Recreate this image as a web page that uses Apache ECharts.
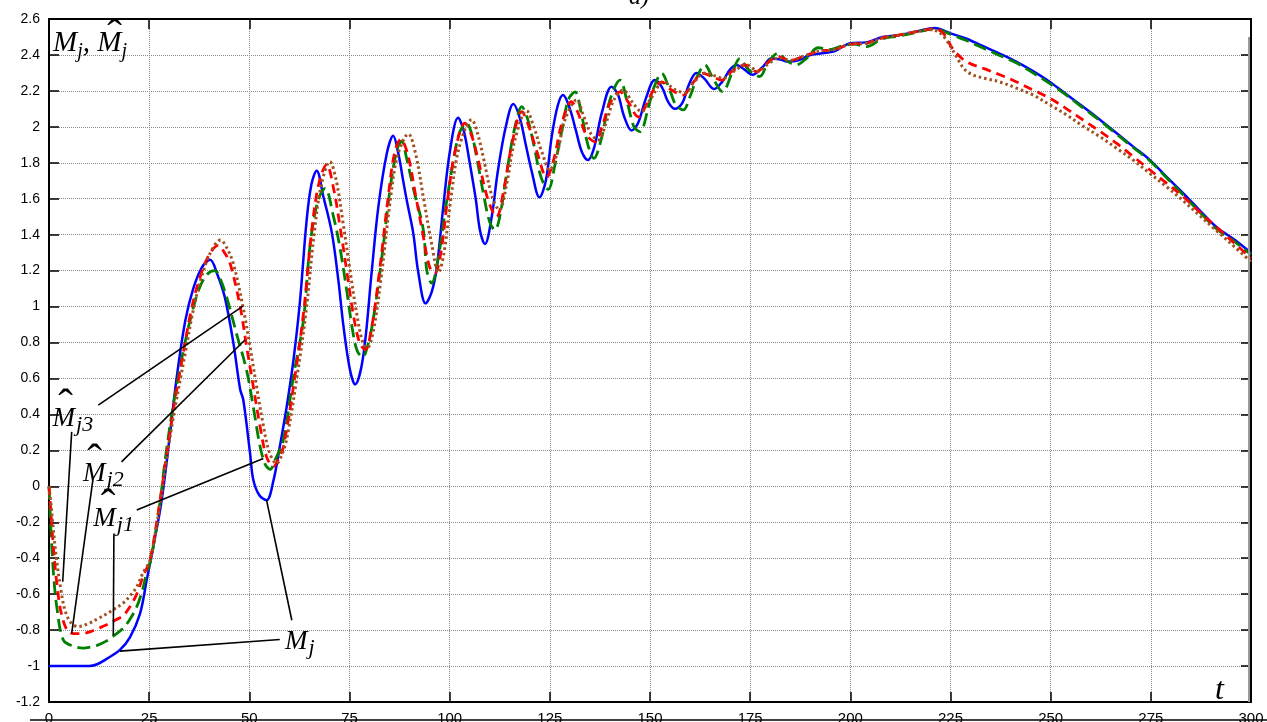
<!DOCTYPE html>
<html>
<head>
<meta charset="UTF-8" />
<title>M_j and estimates</title>
<script src="https://cdn.jsdelivr.net/npm/echarts@6/dist/echarts.min.js"></script>
<style>
  html, body { margin: 0; padding: 0; background: #fff; }
  #chart { width: 1267px; height: 722px; }
</style>
</head>
<body>
<div id="chart"></div>
<script>
// x axis ticks / y axis ticks
const tMin = 0, tMax = 300, tStep = 25;
const vMin = -1.2, vMax = 2.6, vStep = 0.2;

// M_j (blue, solid)
const mj = [
  [0,-1],[5,-1],[10,-1],[12,-0.99],[14.4,-0.96],[17.7,-0.91],[20.2,-0.84],[22.7,-0.71],[24.4,-0.52],
  [26,-0.34],[28.1,-0.08],[30.2,0.29],[31.9,0.61],[34,0.92],[36,1.1],[38.2,1.22],[40.2,1.26],
  [42,1.18],[43.9,1.05],[46,0.8],[47.7,0.54],[48.5,0.48],[50.2,0.18],[51,0.035],[52.5,-0.05],
  [54.3,-0.077],[56,0.03],[57.6,0.22],[59.3,0.44],[61,0.7],[62.6,1.02],[64.3,1.48],[65.5,1.68],
  [66.8,1.756],[68.5,1.61],[70.6,1.41],[72.2,1.15],[73.5,0.89],[75.1,0.65],[76.4,0.567],[78.4,0.72],
  [80.5,1.185],[82.2,1.555],[84.3,1.85],[85.9,1.95],[87.2,1.85],[88.4,1.7],[89.3,1.59],[90.9,1.41],
  [92.2,1.185],[94,1.018],[95.5,1.08],[96.8,1.22],[98.4,1.555],[100.1,1.87],[102.1,2.05],[103.5,1.98],
  [105,1.8],[106.5,1.6],[107.6,1.42],[108.8,1.348],[110.5,1.5],[112,1.75],[114,2.0],[115.9,2.127],
  [117.5,2.05],[119,1.9],[120.5,1.75],[122.4,1.608],[124,1.7],[125.5,1.95],[127,2.12],[128.3,2.177],
  [130,2.1],[131.5,1.98],[133,1.86],[134.5,1.815],[136,1.88],[138,2.08],[140.4,2.223],[142,2.18],
  [143.5,2.06],[145.4,1.98],[147,2.02],[149,2.16],[151.2,2.26],[153,2.22],[154.5,2.14],[156.2,2.1],
  [158,2.13],[159.8,2.24],[161.6,2.3],[163.5,2.27],[166,2.21],[168,2.25],[170,2.32],[171.6,2.344],
  [173.5,2.32],[175.6,2.29],[178,2.33],[180.3,2.38],[182.5,2.375],[184.5,2.363],[187,2.37],[190,2.4],
  [193,2.41],[196,2.42],[200,2.465],[204,2.47],[208,2.5],[212,2.51],[216.5,2.53],[221,2.55],
  [225,2.52],[229,2.49],[233,2.45],[237,2.41],[241.5,2.362],[245.6,2.31],[249.8,2.25],[254,2.18],
  [258.1,2.112],[262.3,2.04],[266.5,1.964],[270.6,1.89],[274.8,1.815],[279,1.72],[283.1,1.63],
  [287,1.54],[291.5,1.44],[296,1.37],[300,1.298]
];

// estimate 1 (green, long dash)
const mj1 = [
  [0,0],[0.5,-0.25],[1.1,-0.48],[2,-0.68],[3.6,-0.856],[6.1,-0.89],[8.6,-0.9],[10.2,-0.895],[12,-0.885],
  [14.4,-0.86],[16,-0.835],[18.5,-0.79],[20.2,-0.74],[21.9,-0.67],[23.3,-0.58],[24.4,-0.48],[25.5,-0.4],
  [27.7,-0.09],[29,0.15],[31,0.45],[33.3,0.73],[35.5,0.95],[37.5,1.1],[39.5,1.18],[41.4,1.2],
  [42.8,1.15],[44.3,1.055],[46.8,0.85],[49.3,0.647],[51,0.44],[52.7,0.22],[54,0.12],[55.2,0.094],
  [56.5,0.15],[58.5,0.26],[61,0.61],[63.5,0.925],[65.1,1.33],[67,1.58],[68.9,1.658],[71,1.5],
  [72.6,1.33],[74.3,1.09],[75.9,0.85],[77,0.75],[78.3,0.72],[79.5,0.78],[80.9,0.925],[83,1.26],
  [85.1,1.65],[86.8,1.87],[88,1.92],[89.3,1.82],[91,1.65],[93.4,1.43],[94.3,1.2],[95.5,1.13],
  [97,1.25],[99,1.55],[101,1.82],[102.5,1.97],[104.2,2.02],[105.5,1.96],[107,1.8],[108.5,1.62],
  [110,1.47],[111.3,1.426],[112.5,1.5],[114.5,1.78],[116.3,2.0],[118,2.112],[119.5,2.04],[121,1.9],
  [122.8,1.72],[124.6,1.652],[126.2,1.78],[128,1.98],[129.6,2.15],[131.3,2.195],[132.8,2.08],
  [134.5,1.9],[136,1.825],[137.7,1.92],[140,2.15],[142.5,2.26],[144.5,2.12],[146,2.0],[147.5,1.973],
  [149.5,2.1],[151,2.22],[152.9,2.298],[155,2.2],[156.5,2.12],[158.3,2.094],[160,2.17],[162,2.29],
  [163.7,2.344],[165.5,2.28],[168.1,2.196],[170.5,2.3],[172.4,2.38],[174.5,2.32],[177.4,2.28],
  [179.5,2.36],[182,2.41],[184,2.37],[186.5,2.345],[189,2.38],[192,2.44],[195,2.43],[198,2.45],
  [201,2.46],[204,2.446],[208,2.49],[212,2.505],[216.5,2.525],[221,2.545],[225,2.515],[229,2.48],
  [233,2.44],[237,2.4],[241.5,2.355],[245.6,2.3],[249.8,2.24],[254,2.175],[258.1,2.105],[262.3,2.035],
  [266.5,1.958],[270.6,1.885],[274.8,1.81],[279,1.715],[283.1,1.62],[287,1.53],[291.5,1.43],
  [296,1.36],[300,1.29]
];

// estimate 2 (red, short dash)
const mj2 = [
  [0,0],[0.5,-0.15],[1.1,-0.34],[2,-0.55],[3,-0.7],[4.5,-0.8],[6.1,-0.82],[8,-0.82],[10.2,-0.81],
  [12.3,-0.79],[14.4,-0.77],[16.5,-0.745],[18.5,-0.72],[20.2,-0.67],[21.9,-0.6],[23.5,-0.5],
  [25.2,-0.41],[27.7,-0.08],[29,0.12],[31,0.42],[33.5,0.74],[35.5,0.98],[37.5,1.15],[40,1.29],
  [42.3,1.34],[43.8,1.3],[45.2,1.24],[47.7,1.0],[49.3,0.78],[51,0.554],[52.7,0.33],[54.3,0.164],
  [56,0.11],[57.2,0.15],[58.5,0.22],[61,0.554],[63.5,0.96],[65.5,1.41],[67.3,1.68],[69.3,1.79],
  [71,1.66],[72.6,1.45],[74.3,1.2],[76,0.95],[77.5,0.8],[78.9,0.76],[80.5,0.88],[82.5,1.2],
  [84.5,1.58],[86.2,1.85],[87.8,1.93],[89.5,1.85],[91.5,1.62],[93.5,1.38],[95,1.22],[96.3,1.185],
  [97.8,1.3],[99.5,1.6],[101.5,1.88],[103.8,2.02],[105.5,1.95],[107.3,1.8],[109.5,1.6],[111.7,1.5],
  [113.5,1.65],[115.5,1.9],[118,2.084],[119.8,2.0],[121.8,1.86],[124.2,1.72],[126,1.82],[128,2.02],
  [130.4,2.14],[132,2.08],[134,1.96],[136.3,1.917],[138,2.0],[140,2.13],[142.5,2.195],[144.5,2.14],
  [147.1,2.056],[149,2.12],[151,2.21],[152.9,2.25],[155,2.21],[158.3,2.177],[160.5,2.24],[163.3,2.298],
  [165.5,2.28],[167.9,2.26],[170.5,2.31],[173.7,2.344],[176.6,2.307],[179,2.35],[182,2.39],[185,2.37],
  [188,2.39],[192,2.42],[196,2.43],[200,2.46],[204,2.465],[208,2.495],[212,2.51],[216.5,2.53],
  [221,2.545],[223.2,2.52],[225.7,2.43],[229,2.362],[233.2,2.325],[237.3,2.29],[241.5,2.25],
  [245.6,2.205],[249.8,2.159],[254,2.1],[258.1,2.038],[262.3,1.975],[266.5,1.908],[270.6,1.835],
  [274.8,1.76],[279,1.685],[283.1,1.611],[287,1.53],[291.5,1.44],[296,1.35],[300,1.27]
];

// estimate 3 (brown, dotted)
const mj3 = [
  [0,0],[0.5,-0.1],[1,-0.22],[1.9,-0.41],[3,-0.58],[4,-0.69],[5.5,-0.76],[7.3,-0.78],[10.2,-0.76],
  [12.3,-0.735],[14.4,-0.71],[16.5,-0.68],[18.5,-0.65],[20.2,-0.61],[21.9,-0.56],[23.5,-0.48],
  [25.2,-0.41],[27.7,-0.1],[29,0.1],[31,0.38],[34,0.74],[36,0.98],[38,1.16],[40.5,1.31],[42.8,1.37],
  [44.3,1.33],[46,1.24],[48.4,1.0],[50,0.8],[51.7,0.57],[53.4,0.35],[55,0.19],[56.8,0.127],[58,0.17],
  [59.3,0.26],[61.7,0.58],[64.2,0.98],[66.2,1.41],[68,1.68],[70.1,1.806],[71.7,1.7],[73.3,1.48],
  [75,1.22],[76.8,0.96],[78.2,0.81],[79.4,0.77],[81,0.87],[83,1.18],[85,1.56],[87,1.84],[89.7,1.96],
  [91.5,1.85],[93.5,1.6],[95.5,1.35],[97.2,1.19],[98.6,1.3],[100.3,1.6],[102.3,1.88],[105.5,2.04],
  [107,1.96],[108.5,1.82],[110.5,1.62],[112.4,1.537],[114.2,1.68],[116.2,1.92],[119.2,2.09],[121,2.0],
  [123,1.86],[125,1.76],[126.8,1.85],[128.8,2.04],[131.7,2.15],[133.3,2.07],[135.3,1.96],[137.1,1.927],
  [139,2.02],[141,2.15],[143.3,2.205],[145.5,2.14],[147.9,2.084],[150,2.15],[153.5,2.25],[156,2.21],
  [158.7,2.19],[161,2.25],[163.8,2.3],[166,2.285],[168.3,2.27],[171,2.31],[174,2.345],[177,2.31],
  [179.5,2.35],[182.3,2.385],[185,2.37],[188,2.39],[192,2.42],[196,2.43],[200,2.46],[204,2.465],
  [208,2.495],[212,2.51],[216.5,2.53],[220.5,2.54],[222.5,2.52],[224,2.483],[226.5,2.39],[228.5,2.32],
  [230.7,2.288],[233.5,2.27],[237.3,2.25],[241.5,2.215],[245.6,2.177],[250,2.12],[254,2.066],
  [258,2.005],[262.3,1.945],[266.5,1.88],[270.6,1.815],[274.8,1.74],[278.9,1.667],[283,1.59],
  [287,1.51],[291.5,1.42],[296,1.33],[300,1.25]
];

// leader lines of the annotations: [from, to] in data units
const leaders = [
  [[12.3,0.452],[48.4,1.003]],
  [[5.66,0.303],[3.42,-0.531]],
  [[18.1,0.136],[48.9,0.814]],
  [[11.06,0.053],[5.66,-0.818]],
  [[21.9,-0.132],[53.5,0.155]],
  [[16.2,-0.262],[16.05,-0.828]],
  [[57.6,-0.852],[17.7,-0.917]],
  [[60.6,-0.745],[54.3,-0.077]]
];

// annotation labels (anchor at the top-left of the letter M) and their texts
const labelAnchors = [[1.0,2.545],[0.9,0.452],[8.5,0.146],[11.06,-0.104],[58.9,-0.79],[291,-1.05]];
const labelTexts = [
  '{my|M}{sy|j}{my|, M}{sy|j}',
  '{m|M}{s|j3}',
  '{m|M}{s|j2}',
  '{m|M}{s|j1}',
  '{m|M}{s|j}',
  '{t|t}'
];
// circumflex (hat) marks over the estimated M's
const hatAnchors = [[16.35,2.5],[4.12,0.438],[11.36,0.132],[14.72,-0.118]];

const serif = 'Liberation Serif, Times New Roman, serif';
const sans = 'Liberation Sans, Arial, sans-serif';

const chart = echarts.init(document.getElementById('chart'), null, { renderer: 'canvas' });

const frameLine = { show: true, onZero: false, lineStyle: { color: '#000', width: 2 } };
const innerTick = { show: true, inside: true, length: 10, lineStyle: { color: '#000', width: 1.5 } };
const gridLine = { show: true, lineStyle: { color: '#8a8a8a', width: 1, type: [1, 1] } };

function curve(name, data, color, type, width) {
  return {
    name, type: 'line', data, smooth: 0.35, symbol: 'none',
    lineStyle: { color, width, type, cap: 'butt' },
    z: 3
  };
}

chart.setOption({
  animation: false,
  backgroundColor: '#fff',
  title: {
    text: 'а)', left: 624, top: -19,
    textStyle: { fontFamily: serif, fontStyle: 'italic', fontWeight: 'normal', fontSize: 24, color: '#000' }
  },
  grid: { left: 49, right: 16, top: 19, bottom: 20, containLabel: false, outerBoundsMode: 'none' },
  xAxis: [
    {
      type: 'value', min: tMin, max: tMax, interval: tStep, position: 'bottom',
      axisLine: frameLine, axisTick: innerTick, splitLine: gridLine,
      axisLabel: { fontFamily: sans, fontSize: 15, color: '#000', margin: 9 }
    },
    {
      type: 'value', min: tMin, max: tMax, interval: tStep, position: 'top',
      axisLine: frameLine, axisTick: innerTick, splitLine: { show: false }, axisLabel: { show: false }
    }
  ],
  yAxis: [
    {
      type: 'value', min: vMin, max: vMax, interval: vStep, position: 'left',
      axisLine: frameLine, axisTick: innerTick, splitLine: gridLine,
      axisLabel: { fontFamily: sans, fontSize: 14, color: '#000', margin: 9 }
    },
    {
      type: 'value', min: vMin, max: vMax, interval: vStep, position: 'right',
      axisLine: frameLine, axisTick: innerTick, splitLine: { show: false }, axisLabel: { show: false }
    }
  ],
  series: [
    curve('Mj', mj, '#0000ff', 'solid', 2.5),
    curve('Mj1', mj1, '#008000', [13, 6], 2.8),
    curve('Mj2', mj2, '#ff0000', [9, 6], 2.8),
    curve('Mj3', mj3, '#a0501e', [2.5, 3], 3),
    {
      type: 'lines', coordinateSystem: 'cartesian2d', polyline: false, z: 5,
      lineStyle: { color: '#000', width: 1.6, opacity: 1 },
      data: leaders.map(l => ({ coords: l }))
    },
    {
      type: 'scatter', symbolSize: 0, z: 6, silent: true,
      itemStyle: { opacity: 1 },
      data: labelAnchors.map((p, i) => ({ value: p, text: labelTexts[i] })),
      label: {
        show: true, position: [0, 0], align: 'left', verticalAlign: 'top',
        formatter: p => p.data.text,
        rich: {
          m: { fontFamily: serif, fontStyle: 'italic', fontSize: 27, lineHeight: 28, color: '#000', verticalAlign: 'top' },
          s: { fontFamily: serif, fontStyle: 'italic', fontSize: 22, lineHeight: 22, padding: [9, 0, 0, 1], color: '#000', verticalAlign: 'top' },
          my: { fontFamily: serif, fontStyle: 'italic', fontSize: 29, lineHeight: 30, color: '#000', verticalAlign: 'top' },
          sy: { fontFamily: serif, fontStyle: 'italic', fontSize: 20, lineHeight: 20, padding: [13, 0, 0, 0], color: '#000', verticalAlign: 'top' },
          t: { fontFamily: serif, fontStyle: 'italic', fontSize: 32, lineHeight: 32, color: '#000' }
        }
      }
    },
    {
      type: 'scatter', symbolSize: 0, z: 6, silent: true,
      itemStyle: { opacity: 1 },
      data: hatAnchors,
      label: {
        show: true, position: [0, 0], align: 'center', verticalAlign: 'middle',
        formatter: 'ˆ', fontFamily: serif, fontSize: 44, color: '#000'
      }
    }
  ],
  graphic: [
    { type: 'line', shape: { x1: 30, y1: 720, x2: 1267, y2: 720 }, style: { stroke: '#000', lineWidth: 1.5 }, z: 10 },
    { type: 'line', shape: { x1: 1249, y1: 37, x2: 1249, y2: 702 }, style: { stroke: '#9a9a9a', lineWidth: 2 }, z: 10 }
  ]
});
</script>
</body>
</html>
